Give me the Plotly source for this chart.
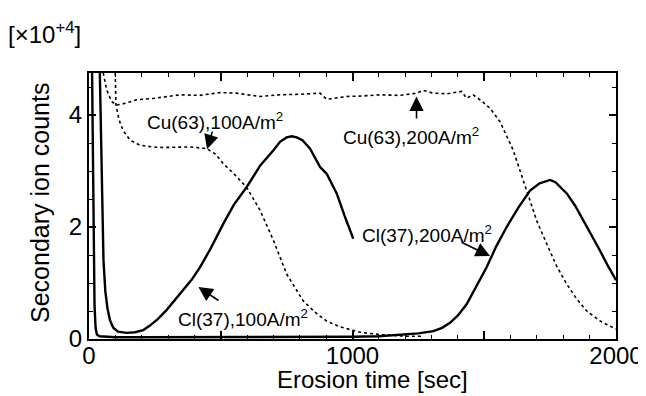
import plotly.graph_objects as go

# ---------------- data ----------------
cu200_t = [48, 54, 67, 86, 105, 130, 180, 250, 345, 420, 497, 560, 649, 720, 800, 877, 902,
           978, 1040, 1104, 1180, 1244, 1268, 1306, 1360, 1414, 1433, 1458, 1490, 1522, 1560,
           1610, 1661, 1700, 1737, 1775, 1813, 1850, 1889, 1940, 1990, 2000]
cu200_v = [5.5, 4.75, 4.45, 4.24, 4.18, 4.20, 4.27, 4.30, 4.36, 4.35, 4.40, 4.39, 4.33, 4.36,
           4.37, 4.39, 4.28, 4.33, 4.34, 4.36, 4.35, 4.39, 4.44, 4.39, 4.38, 4.42, 4.30, 4.36,
           4.25, 4.12, 3.88, 3.37, 2.65, 2.10, 1.70, 1.30, 0.98, 0.72, 0.50, 0.32, 0.20, 0.18]

cu100_t = [96, 99, 102, 110, 118, 130, 156, 194, 240, 282, 330, 383, 447, 480, 510, 550, 598,
           649, 700, 750, 813, 860, 902, 950, 990, 1030, 1100, 1200, 1260]
cu100_v = [5.5, 4.6, 4.2, 4.0, 3.86, 3.72, 3.55, 3.46, 3.43, 3.42, 3.42, 3.43, 3.40, 3.30,
           3.13, 2.95, 2.71, 2.30, 1.76, 1.16, 0.68, 0.47, 0.32, 0.22, 0.17, 0.12, 0.08, 0.05, 0.05]

cl100_t = [38, 45, 50, 55, 62, 70, 80, 92, 110, 143, 175, 206, 231, 260, 295, 330, 358, 390,
           421, 460, 510, 550, 598, 650, 700, 725, 750, 770, 788, 810, 839, 877, 902, 940, 970, 1003]
cl100_v = [5.5, 3.5, 2.3, 1.4, 0.85, 0.55, 0.33, 0.20, 0.13, 0.11, 0.12, 0.16, 0.24, 0.35,
           0.52, 0.72, 0.88, 1.06, 1.28, 1.60, 2.06, 2.40, 2.71, 3.10, 3.37, 3.52, 3.60, 3.62,
           3.60, 3.55, 3.40, 3.07, 2.95, 2.60, 2.20, 1.79]

cl200_t = [10, 15, 18, 21, 25, 30, 40, 60, 100, 200, 400, 600, 800, 1000, 1100, 1180, 1250,
           1307, 1340, 1370, 1400, 1433, 1470, 1509, 1545, 1585, 1630, 1674, 1710, 1737, 1750,
           1770, 1813, 1845, 1876, 1910, 1939, 1970, 2000]
cl200_v = [5.5, 3.0, 1.5, 0.6, 0.2, 0.08, 0.05, 0.04, 0.03, 0.03, 0.03, 0.03, 0.03, 0.04,
           0.05, 0.07, 0.10, 0.14, 0.20, 0.29, 0.42, 0.62, 0.95, 1.28, 1.65, 2.00, 2.35, 2.65,
           2.78, 2.83, 2.84, 2.80, 2.60, 2.38, 2.12, 1.85, 1.58, 1.30, 1.05]

x_tickvals = [0, 500, 1000, 1500, 2000]
x_ticktext = ["0", "", "1000", "", "2000"]
y_tickvals = [0, 2, 4]
y_ticktext = ["0", "2", "4"]

labels = ["Cu(63),100A/m<sup>2</sup>", "Cu(63),200A/m<sup>2</sup>",
          "Cl(37),100A/m<sup>2</sup>", "Cl(37),200A/m<sup>2</sup>"]

# ---------------- figure ----------------
OFF = 8                      # page body margin of the html page
W, H = 646 - OFF, 396 - OFF
L, R, T, B = 89 - OFF, 30, 73 - OFF, 57
PW, PH = W - L - R, H - T - B


def px(xp):                  # page pixel -> paper fraction
    return (xp - OFF - L) / PW


def py(yp):
    return (H - B - (yp - OFF)) / PH


FONT = "Liberation Sans, Arial, Helvetica, sans-serif"
dotted = dict(color="black", width=1.6, dash="3px,3px")
solid = dict(color="black", width=2.4)

fig = go.Figure()
fig.add_trace(go.Scatter(x=cu200_t, y=cu200_v, mode="lines", line=dotted))
fig.add_trace(go.Scatter(x=cu100_t, y=cu100_v, mode="lines", line=dotted))
fig.add_trace(go.Scatter(x=cl100_t, y=cl100_v, mode="lines", line=solid))
fig.add_trace(go.Scatter(x=cl200_t, y=cl200_v, mode="lines", line=solid))

axis_common = dict(showgrid=False, zeroline=False, showline=True, linecolor="black",
                   linewidth=2, mirror="ticks", ticks="inside", tickcolor="black",
                   tickwidth=1.5, automargin=False,
                   tickfont=dict(family=FONT, size=24, color="black"))

fig.update_xaxes(range=[0, 2000], tickmode="array", tickvals=x_tickvals,
                 ticktext=x_ticktext, ticklen=8, ticklabelstandoff=-6,
                 minor=dict(dtick=100, ticklen=4, ticks="inside", tickcolor="black",
                            tickwidth=1.2, showgrid=False),
                 **axis_common)
fig.update_yaxes(range=[0, 4.75], tickmode="array", tickvals=y_tickvals,
                 ticktext=y_ticktext, ticklen=7,
                 minor=dict(dtick=0.5, ticklen=4, ticks="inside", tickcolor="black",
                            tickwidth=1.2, showgrid=False),
                 **axis_common)

ann = []
# axis titles / multiplier
ann.append(dict(xref="paper", yref="paper", x=px(40), y=py(203), xanchor="center",
                yanchor="middle", text="Secondary ion counts", textangle=-90,
                showarrow=False, font=dict(family=FONT, size=25, color="black")))
ann.append(dict(xref="paper", yref="paper", x=px(372), y=py(395), xanchor="center",
                yanchor="bottom", text="Erosion time [sec]",
                showarrow=False, font=dict(family=FONT, size=24, color="black")))
ann.append(dict(xref="paper", yref="paper", x=px(6), y=py(33), xanchor="left",
                yanchor="middle", text="[×10<sup>+4</sup>]", showarrow=False,
                font=dict(family=FONT, size=24, color="black")))

# curve labels
lab_font = dict(family=FONT, size=19, color="black")
ann.append(dict(x=212, y=3.90, text=labels[0], xanchor="left", yanchor="middle",
                showarrow=False, font=lab_font))
ann.append(dict(x=958, y=3.62, text=labels[1], xanchor="left", yanchor="middle",
                showarrow=False, font=lab_font))
ann.append(dict(x=332, y=0.37, text=labels[2], xanchor="left", yanchor="middle",
                showarrow=False, font=lab_font))
ann.append(dict(x=1030, y=1.87, text=labels[3], xanchor="left", yanchor="middle",
                showarrow=False, font=lab_font))

# arrows (head at x,y ; tail at ax,ay)
arrows = [(448, 3.39, 470, 3.73), (1243, 4.33, 1243, 3.91),
          (415, 0.93, 497, 0.67), (1522, 1.48, 1408, 1.74)]
for hx, hy, tx, ty in arrows:
    ann.append(dict(x=hx, y=hy, ax=tx, ay=ty, xref="x", yref="y", axref="x", ayref="y",
                    text="", showarrow=True, arrowhead=2, arrowsize=1.8, arrowwidth=1.6,
                    arrowcolor="black"))

fig.update_layout(width=W, height=H, margin=dict(l=L, r=R, t=T, b=B, autoexpand=False),
                  plot_bgcolor="white", paper_bgcolor="white", showlegend=False,
                  annotations=ann, font=dict(family=FONT, color="black"))

fig.write_html("out.html")
